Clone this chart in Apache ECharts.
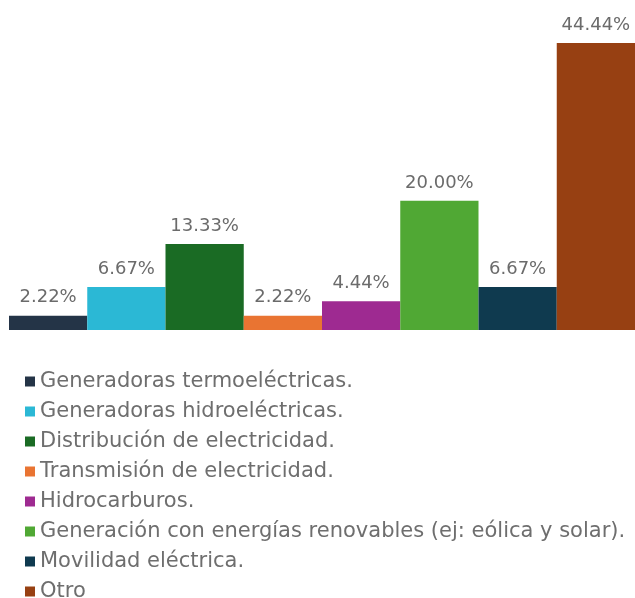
<!DOCTYPE html>
<html>
<head>
<meta charset="utf-8">
<script src="https://cdn.jsdelivr.net/npm/echarts@6/dist/echarts.min.js"></script>
<style>
    * { margin: 0; padding: 0; }
    body { background: #fff; }
    #chart { width: 635px; height: 598px; }
</style>
</head>
<body>
<div id="chart"></div>
<script>
    // categorías (una serie por categoría, como en la leyenda)
    var categories = [
        'Generadoras termoeléctricas.',
        'Generadoras hidroeléctricas.',
        'Distribución de electricidad.',
        'Transmisión de electricidad.',
        'Hidrocarburos.',
        'Generación con energías renovables (ej: eólica y solar).',
        'Movilidad eléctrica.',
        'Otro'
    ];
    var values = [2.22, 6.67, 13.33, 2.22, 4.44, 20.00, 6.67, 44.44];
    var colors = ['#243447', '#2bb8d5', '#1a6b24', '#e97432', '#9e2a91', '#50a834', '#0f3a4f', '#974012'];

    var fontFamily = '"DejaVu Sans", sans-serif';

    // cada serie solo tiene valor en su propia posición
    var series = categories.map(function (name, i) {
        var data = values.map(function (v, j) { return j === i ? v : '-'; });
        return {
            name: name,
            type: 'bar',
            stack: 'total',
            barCategoryGap: 0,
            itemStyle: { color: colors[i] },
            label: {
                show: true,
                position: 'top',
                distance: 9,
                color: '#6b6b6b',
                fontSize: 18,
                fontFamily: fontFamily,
                formatter: function (p) { return p.value.toFixed(2) + '%'; }
            },
            data: data
        };
    });

    var myChart = echarts.init(document.getElementById('chart'));
    myChart.setOption({
        animation: false,
        grid: { left: 9, right: 0, top: 43, bottom: 268 },
        xAxis: {
            type: 'category',
            data: categories,
            axisLine: { show: false },
            axisTick: { show: false },
            axisLabel: { show: false }
        },
        yAxis: {
            type: 'value',
            min: 0,
            max: 44.44,
            show: false
        },
        legend: {
            orient: 'vertical',
            left: 20,
            top: 366,
            height: 300,
            icon: 'rect',
            itemWidth: 10,
            itemHeight: 10,
            itemGap: 9,
            textStyle: { fontSize: 21, color: '#6e6e6e', fontFamily: fontFamily },
            data: categories
        },
        series: series
    });
</script>
</body>
</html>
